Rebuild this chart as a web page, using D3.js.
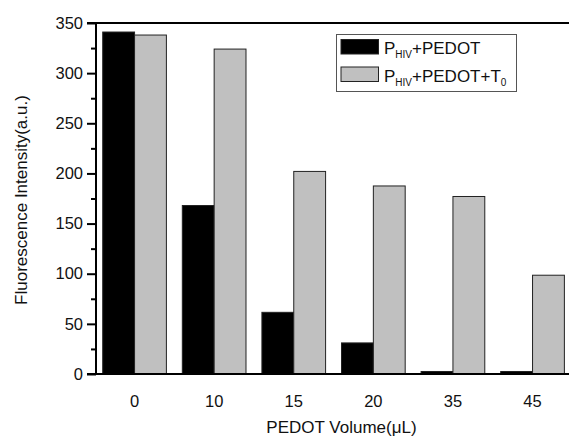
<!DOCTYPE html>
<html><head><meta charset="utf-8">
<script src="https://cdn.jsdelivr.net/npm/d3@7"></script>
<style>
body{margin:0;background:#fff;}
svg{display:block;font-family:"Liberation Sans",Arial,sans-serif;}
</style></head>
<body><svg id="c" width="569" height="437"></svg>
<script>
const categories = ["0","10","15","20","35","45"];
const seriesNames = ["P_HIV+PEDOT","P_HIV+PEDOT+T_0"];
const blackValues = [341, 168, 61.5, 31, 2.5, 2.5];
const grayValues = [338, 324, 202, 187.5, 177, 98.5];
const yTicks = [0,50,100,150,200,250,300,350];
const yMinorTicks = [25,75,125,175,225,275,325];

const svg = d3.select("#c");
const plotLeft = 96, plotTop = 23, plotBottom = 374, plotW = 569;

const y = d3.scaleLinear().domain([0,350]).range([plotBottom, plotTop]);
const x = d3.scaleBand().domain(categories).range([86.8, 580.3]).padding(0.2);
const xs = d3.scaleBand().domain([0,1]).range([0, x.bandwidth()]);

const rows = categories.map((c,i)=>({c, v:[blackValues[i], grayValues[i]]}));
const fills = ["#000000","#c0c0c0"];

const g = svg.append("g");
rows.forEach(r=>{
  r.v.forEach((v,j)=>{
    g.append("rect")
      .attr("x", x(r.c)+xs(j))
      .attr("y", y(v))
      .attr("width", xs.bandwidth())
      .attr("height", y(0)-y(v))
      .attr("fill", fills[j])
      .attr("stroke", "#222")
      .attr("stroke-width", 1);
  });
});

// y axis
const yAxis = d3.axisLeft(y).tickValues(yTicks).tickSize(9).tickPadding(4);
const ya = svg.append("g").attr("transform",`translate(${plotLeft},0)`).call(yAxis);
ya.select(".domain").remove();
ya.selectAll(".tick line").attr("stroke","#000").attr("stroke-width",2);
ya.selectAll(".tick text").attr("font-size","16.5px").attr("fill","#111");
const ym = d3.axisLeft(y).tickValues(yMinorTicks).tickSize(5).tickFormat("");
const yma = svg.append("g").attr("transform",`translate(${plotLeft},0)`).call(ym);
yma.select(".domain").remove();
yma.selectAll(".tick line").attr("stroke","#000").attr("stroke-width",2);

// spines
svg.append("line").attr("x1",plotLeft).attr("x2",plotLeft).attr("y1",plotTop).attr("y2",plotBottom+1).attr("stroke","#000").attr("stroke-width",2);
svg.append("line").attr("x1",plotLeft-9).attr("x2",plotW).attr("y1",plotTop).attr("y2",plotTop).attr("stroke","#000").attr("stroke-width",2);
svg.append("line").attr("x1",plotLeft-9).attr("x2",plotW).attr("y1",plotBottom).attr("y2",plotBottom).attr("stroke","#000").attr("stroke-width",2);

// x axis labels
const xAxis = d3.axisBottom(x).tickSize(0).tickPadding(21);
const xa = svg.append("g").attr("transform",`translate(0,${plotBottom})`).call(xAxis);
xa.select(".domain").remove();
xa.selectAll(".tick text").attr("font-size","16.5px").attr("fill","#111");

// titles
svg.append("text").attr("x",341.5).attr("y",433).attr("text-anchor","middle")
  .attr("font-size","17px").attr("fill","#111").text("PEDOT Volume(μL)");
svg.append("text").attr("transform","translate(27,200) rotate(-90)").attr("text-anchor","middle")
  .attr("font-size","17px").attr("fill","#111").text("Fluorescence Intensity(a.u.)");

// legend
const lg = svg.append("g");
lg.append("rect").attr("x",336.5).attr("y",34.5).attr("width",180).attr("height",57)
  .attr("fill","#fff").attr("stroke","#555").attr("stroke-width",1);
const legendRows = [{y:39.5, fill:fills[0], main:"+PEDOT"},{y:67, fill:fills[1], main:"+PEDOT+T"}];
legendRows.forEach((r,i)=>{
  lg.append("rect").attr("x",341).attr("y",r.y).attr("width",37.5).attr("height",14.5)
    .attr("fill",r.fill).attr("stroke","#222").attr("stroke-width",1);
  const t = lg.append("text").attr("x",384).attr("y",r.y+14.5).attr("font-size","17px").attr("fill","#111");
  t.append("tspan").text("P");
  t.append("tspan").attr("font-size","10px").attr("dy",4).text("HIV");
  t.append("tspan").attr("dy",-4).text(r.main);
  if(i===1){ t.append("tspan").attr("font-size","10px").attr("dy",4).text("0"); }
});
</script></body></html>
